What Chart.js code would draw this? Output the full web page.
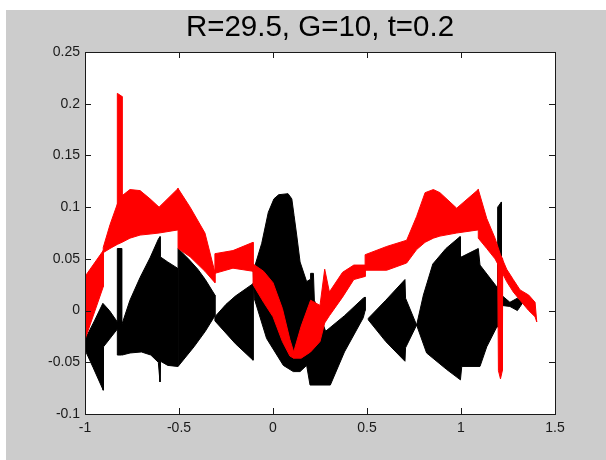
<!DOCTYPE html>
<html lang="en">
<head>
    <meta charset="UTF-8">
    <title>R=29.5, G=10, t=0.2</title>
    <script src="https://cdn.jsdelivr.net/npm/chart.js@4.4.1/dist/chart.umd.min.js"></script>
    <style>
        * {
            margin: 0;
            padding: 0;
            box-sizing: border-box;
        }

        body {
            background: #fff;
            width: 606px;
            height: 460px;
            overflow: hidden;
        }

        .figure {
            position: absolute;
            left: 6px;
            top: 10px;
            width: 600px;
            height: 450px;
            background: #cccccc;
        }
    </style>
</head>
<body>
    <div class="figure">
        <canvas id="plot"></canvas>
    </div>

    <script>
        // Tick labels
        const xTickLabels = ['-1', '-0.5', '0', '0.5', '1', '1.5'];
        const yTickLabels = ['-0.1', '-0.05', '0', '0.05', '0.1', '0.15', '0.2', '0.25'];

        // Red bands: x, upper edge, lower edge
        const redAx = [-1.0, -0.903];
        const redAhi = [0.033, 0.058];
        const redAlo = [-0.028, 0.023];

        const redBx = [-0.903, -0.867, -0.828, -0.803, -0.761, -0.707, -0.654, -0.606, -0.505];
        const redBhi = [0.061, 0.083, 0.103, 0.111, 0.117, 0.116, 0.108, 0.100, 0.118];
        const redBlo = [0.056, 0.060, 0.064, 0.066, 0.070, 0.073, 0.074, 0.075, 0.078];

        const spikeX = [-0.828, -0.803];
        const spikeHi = [0.210, 0.207];
        const spikeLo = [0.09, 0.09];

        const redCx = [-0.505, -0.441, -0.362, -0.309];
        const redChi = [0.118, 0.100, 0.075, 0.037];
        const redClo = [0.060, 0.052, 0.038, 0.027];

        const redDx = [-0.309, -0.213, -0.106];
        const redDhi = [0.055, 0.058, 0.066];
        const redDlo = [0.036, 0.041, 0.038];

        const redEx = [-0.106, -0.05, 0.0, 0.05, 0.09, 0.11];
        const redEhi = [0.045, 0.038, 0.027, 0.002, -0.028, -0.040];
        const redElo = [0.025, 0.008, -0.006, -0.030, -0.044, -0.046];

        const redFx = [0.11, 0.15, 0.20, 0.25, 0.275, 0.30, 0.37, 0.43, 0.49];
        const redFhi = [-0.040, -0.015, 0.010, 0.005, 0.040, 0.018, 0.037, 0.044, 0.044];
        const redFlo = [-0.046, -0.046, -0.040, -0.030, -0.012, -0.005, 0.013, 0.030, 0.033];

        const redGx = [0.49, 0.605, 0.711, 0.764, 0.809, 0.853, 0.888, 0.977, 1.092];
        const redGhi = [0.054, 0.062, 0.068, 0.091, 0.114, 0.117, 0.114, 0.099, 0.117];
        const redGlo = [0.039, 0.039, 0.046, 0.059, 0.066, 0.070, 0.072, 0.075, 0.078];

        const redHx = [1.092, 1.137, 1.181, 1.21, 1.243, 1.278, 1.314, 1.36, 1.394, 1.403];
        const redHhi = [0.117, 0.089, 0.070, 0.054, 0.040, 0.030, 0.020, 0.015, 0.008, -0.011];
        const redHlo = [0.070, 0.060, 0.050, 0.040, 0.028, 0.018, 0.010, 0.000, -0.006, -0.011];

        const redNeedle = [[1.195, 0.057], [1.222, 0.05], [1.22, -0.058], [1.21, -0.066], [1.199, -0.058]];

        // Black patches: outline points
        const blk1 = [[-1.0, -0.028], [-0.95, -0.010], [-0.905, 0.007], [-0.87, 0.0], [-0.824, -0.012], [-0.824, -0.017],
            [-0.9015, -0.035], [-0.903, -0.077], [-0.957, -0.055], [-1.0, -0.038]];
        const blkBar1 = [[-0.828, 0.060], [-0.805, 0.060], [-0.805, -0.043], [-0.828, -0.043]];
        const blk2 = [[-0.803, -0.013], [-0.761, 0.010], [-0.707, 0.032], [-0.654, 0.051], [-0.610, 0.069], [-0.601, 0.0715],
            [-0.600, 0.052], [-0.560, 0.047], [-0.508, 0.041], [-0.508, -0.054], [-0.560, -0.053], [-0.598, -0.049],
            [-0.601, -0.069], [-0.610, -0.050], [-0.650, -0.043], [-0.700, -0.040], [-0.760, -0.041], [-0.803, -0.043]];
        const blk3 = [[-0.505, 0.060], [-0.45, 0.050], [-0.40, 0.040], [-0.36, 0.030], [-0.309, 0.015], [-0.309, -0.005],
            [-0.36, -0.020], [-0.42, -0.035], [-0.505, -0.054]];
        const blk4 = [[-0.309, -0.006], [-0.25, 0.006], [-0.2, 0.014], [-0.106, 0.026], [-0.106, -0.048], [-0.2, -0.032], [-0.309, -0.010]];
        const blkHump = [[-0.100, 0.012], [-0.105, 0.038], [-0.060, 0.065], [-0.025, 0.095], [0.005, 0.108], [0.030, 0.112],
            [0.080, 0.113], [0.100, 0.108], [0.112, 0.092], [0.126, 0.073], [0.144, 0.047], [0.179, 0.028], [0.197, 0.030],
            [0.20, 0.036], [0.215, 0.036], [0.22, 0.010], [0.28, -0.020], [0.38, -0.005], [0.48, 0.012], [0.49, 0.013],
            [0.49, 0.0], [0.48, -0.007], [0.38, -0.040], [0.305, -0.072], [0.197, -0.072], [0.179, -0.053], [0.144, -0.059],
            [0.108, -0.059], [0.055, -0.053], [-0.034, -0.027]];
        const blk6 = [[0.507, -0.0075], [0.60, 0.010], [0.702, 0.030], [0.705, 0.012], [0.764, -0.014], [0.705, -0.036],
            [0.702, -0.049], [0.60, -0.030], [0.507, -0.009]];
        const blk7 = [[0.764, -0.014], [0.80, 0.015], [0.850, 0.045], [0.920, 0.060], [0.995, 0.0715], [0.997, 0.052],
            [1.004, 0.052], [1.092, 0.0600], [1.101, 0.044], [1.19, 0.023], [1.19, -0.016], [1.137, -0.035], [1.101, -0.054],
            [1.004, -0.054], [0.997, -0.067], [0.924, -0.057], [0.817, -0.041]];
        const blkBar2 = [[1.195, 0.100], [1.215, 0.105], [1.215, -0.016], [1.195, -0.016]];
        const blkBlob = [[1.215, 0.015], [1.26, 0.008], [1.30, 0.012], [1.33, 0.008], [1.30, 0.0], [1.26, 0.004], [1.215, 0.005]];

        // build a closed outline from a band (upper edge forward, lower edge back)
        function band(xs, hi, lo) {
            const pts = xs.map((x, i) => [x, hi[i]]);
            for (let i = xs.length - 1; i >= 0; i--) pts.push([xs[i], lo[i]]);
            return pts;
        }

        function patch(pts, color) {
            const data = pts.map(p => ({ x: p[0], y: p[1] }));
            data.push({ x: pts[0][0], y: pts[0][1] });
            return {
                data: data,
                showLine: true,
                fill: 'shape',
                backgroundColor: color,
                borderColor: color,
                borderWidth: 1,
                pointRadius: 0,
                tension: 0
            };
        }

        const redPatches = [
            redNeedle,
            band(redAx, redAhi, redAlo),
            band(redBx, redBhi, redBlo),
            band(spikeX, spikeHi, spikeLo),
            band(redCx, redChi, redClo),
            band(redDx, redDhi, redDlo),
            band(redEx, redEhi, redElo),
            band(redFx, redFhi, redFlo),
            band(redGx, redGhi, redGlo),
            band(redHx, redHhi, redHlo)
        ];
        const blackPatches = [blkBar2, blkBlob, blk1, blkBar1, blk2, blk3, blk4, blkHump, blk6, blk7];

        // first datasets are drawn on top, so red goes first
        const datasets = redPatches.map(p => patch(p, '#ff0000'))
            .concat(blackPatches.map(p => patch(p, '#000000')));

        // white axes background, box and inward ticks like the original
        const axesBox = {
            id: 'axesBox',
            beforeDatasetsDraw(chart) {
                const { ctx, chartArea: a } = chart;
                ctx.save();
                ctx.fillStyle = '#ffffff';
                ctx.fillRect(a.left, a.top, a.right - a.left, a.bottom - a.top);
                ctx.restore();
            },
            afterDraw(chart) {
                const { ctx, chartArea: a, scales } = chart;
                const len = 6;
                ctx.save();
                ctx.strokeStyle = '#1a1a1a';
                ctx.lineWidth = 1;
                ctx.strokeRect(Math.round(a.left) + 0.5, Math.round(a.top) + 0.5,
                    Math.round(a.right - a.left), Math.round(a.bottom - a.top));
                ctx.beginPath();
                scales.x.ticks.forEach(t => {
                    const px = Math.round(scales.x.getPixelForValue(t.value)) + 0.5;
                    ctx.moveTo(px, a.bottom); ctx.lineTo(px, a.bottom - len);
                    ctx.moveTo(px, a.top); ctx.lineTo(px, a.top + len);
                });
                scales.y.ticks.forEach(t => {
                    const py = Math.round(scales.y.getPixelForValue(t.value)) + 0.5;
                    ctx.moveTo(a.left, py); ctx.lineTo(a.left + len, py);
                    ctx.moveTo(a.right, py); ctx.lineTo(a.right - len, py);
                });
                ctx.stroke();
                ctx.restore();
            }
        };

        const tickFont = { family: "'Liberation Sans', Arial, sans-serif", size: 14 };

        new Chart(document.getElementById('plot'), {
            type: 'scatter',
            data: { datasets: datasets },
            options: {
                responsive: true,
                maintainAspectRatio: false,
                animation: false,
                layout: { padding: { left: 0, right: 51, top: 0, bottom: 0 } },
                plugins: {
                    legend: { display: false },
                    tooltip: { enabled: false },
                    title: {
                        display: true,
                        fullSize: false, // centre over the axes, not the whole figure
                        text: 'R=29.5, G=10, t=0.2',
                        color: '#000000',
                        font: { family: "'Liberation Sans', Arial, sans-serif", size: 29.5, weight: 'normal' },
                        padding: { top: 0, bottom: 6.6 }
                    }
                },
                scales: {
                    x: {
                        type: 'linear',
                        min: -1,
                        max: 1.5,
                        grid: { display: false, drawTicks: false },
                        border: { display: false },
                        ticks: {
                            stepSize: 0.5,
                            padding: 6,
                            color: '#1a1a1a',
                            font: tickFont,
                            maxRotation: 0,
                            callback: (v, i) => xTickLabels[i] ?? String(Math.round(v * 100) / 100)
                        },
                        afterFit: s => { s.height = 46; }
                    },
                    y: {
                        type: 'linear',
                        min: -0.1,
                        max: 0.25,
                        grid: { display: false, drawTicks: false },
                        border: { display: false },
                        ticks: {
                            stepSize: 0.05,
                            padding: 5,
                            color: '#1a1a1a',
                            font: tickFont,
                            callback: (v, i) => yTickLabels[i] ?? String(Math.round(v * 100) / 100)
                        },
                        afterFit: s => { s.width = 79; }
                    }
                }
            },
            plugins: [axesBox]
        });
    </script>
</body>
</html>
